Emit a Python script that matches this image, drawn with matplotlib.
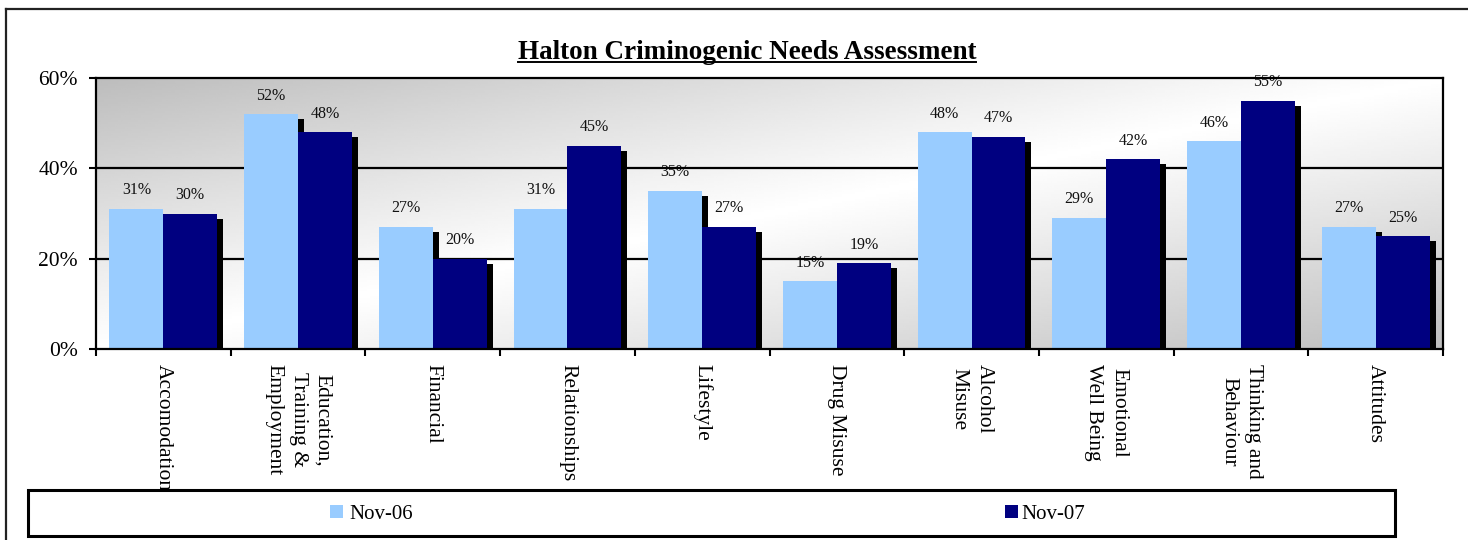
import numpy as np
import matplotlib
matplotlib.use("Agg")
import matplotlib.pyplot as plt
from matplotlib.patches import Rectangle
from matplotlib.lines import Line2D
import matplotlib.patheffects as pe

categories = [
    "Accomodation",
    "Education,\nTraining &\nEmployment",
    "Financial",
    "Relationships",
    "Lifestyle",
    "Drug Misuse",
    "Alcohol\nMisuse",
    "Emotional\nWell Being",
    "Thinking and\nBehaviour",
    "Attitudes",
]
nov06 = [31, 52, 27, 31, 35, 15, 48, 29, 46, 27]
nov07 = [30, 48, 20, 45, 27, 19, 47, 42, 55, 25]
series_names = ["Nov-06", "Nov-07"]
y_ticks = [0, 20, 40, 60]

light = "#99CCFF"
navy = "#000080"
serif = ["Liberation Serif", "DejaVu Serif"]
plt.rcParams["font.family"] = serif

fig = plt.figure(figsize=(14.68, 5.40), dpi=100)
W, H = 1468, 540

# outer chart frame (left and top edges only show)
fig.add_artist(Line2D([6 / W, 6 / W], [0, 1 - 9 / H], transform=fig.transFigure,
                      color="#222222", lw=1.6))
fig.add_artist(Line2D([6 / W, 1], [1 - 9 / H, 1 - 9 / H], transform=fig.transFigure,
                      color="#222222", lw=1.6))

ax = fig.add_axes([96 / W, 1 - 349 / H, (1443 - 96) / W, (349 - 78) / H])

# diagonal grey-white-grey background
nx, ny = 400, 120
xx, yy = np.meshgrid(np.linspace(0, 1, nx), np.linspace(1, 0, ny))
d = (xx + (1 - yy)) / 2
shade = 1 - 0.26 * np.abs(2 * d - 1) ** 1.05
ax.imshow(shade, cmap="gray", vmin=0, vmax=1, extent=[0, 1, 0, 1],
          transform=ax.transAxes, aspect="auto", zorder=0, interpolation="bilinear")

n = len(categories)
x = np.arange(n) + 0.5
width = 0.4
shadow = [pe.SimplePatchShadow(offset=(4.3, -3.6), shadow_rgbFace="black", alpha=1.0),
          pe.Normal()]

b1 = ax.bar(x - width / 2, nov06, width, color=light, zorder=3, label=series_names[0])
b2 = ax.bar(x + width / 2, nov07, width, color=navy, zorder=4, label=series_names[1])
for p in list(b1) + list(b2):
    p.set_path_effects(shadow)

for bars, vals in ((b1, nov06), (b2, nov07)):
    for p, v in zip(bars, vals):
        ax.annotate(f"{v}%", (p.get_x() + p.get_width() / 2, v),
                    xytext=(0, 10.5), textcoords="offset points",
                    ha="center", va="baseline", fontsize=11.5, color="#111111",
                    zorder=1)

ax.set_xlim(0, n)
ax.set_ylim(0, 60)
ax.set_yticks(y_ticks)
ax.set_yticklabels([f"{t}%" for t in y_ticks], fontsize=15.5)
for t in y_ticks[1:3]:
    ax.axhline(t, color="black", lw=1.6, zorder=2)

ax.set_xticks(np.arange(n + 1))
ax.set_xticklabels([])
ax.set_xticks(x, minor=True)
ax.set_xticklabels(categories, minor=True, rotation=270, fontsize=15.5,
                   va="top", ha="center", linespacing=1.4)
ax.tick_params(axis="x", which="major", direction="out", length=5, width=1.5)
ax.tick_params(axis="x", which="minor", length=0, pad=11)
ax.tick_params(axis="y", direction="out", length=5, width=1.5, pad=8)

for s in ax.spines.values():
    s.set_linewidth(1.6)
    s.set_color("black")
    s.set_zorder(5)

# title with underline
title = fig.text(747 / W, 1 - 59 / H, "Halton Criminogenic Needs Assessment",
                 ha="center", va="baseline", fontsize=19.5, fontweight="bold")
fig.canvas.draw()
bb = title.get_window_extent()
uy = (bb.y0 + 3) / H
fig.add_artist(Line2D([bb.x0 / W, bb.x1 / W], [uy, uy], transform=fig.transFigure,
                      color="black", lw=1.4))

# legend box drawn over the bottom of the category labels
fig.add_artist(Rectangle((28 / W, 1 - 536 / H), (1395 - 28) / W, 46 / H,
                         transform=fig.transFigure, facecolor="white",
                         edgecolor="black", lw=2.2, zorder=10))
for (sx, tx), col, name in (((330, 349), light, series_names[0]),
                             ((1005, 1021), navy, series_names[1])):
    fig.add_artist(Rectangle((sx / W, 1 - 518 / H), 13 / W, 13 / H,
                             transform=fig.transFigure, facecolor=col,
                             edgecolor="none", zorder=11))
    fig.text(tx / W, 1 - 512 / H, name, ha="left", va="center_baseline",
             fontsize=15, zorder=11)

fig.savefig("out.png", dpi=100)
